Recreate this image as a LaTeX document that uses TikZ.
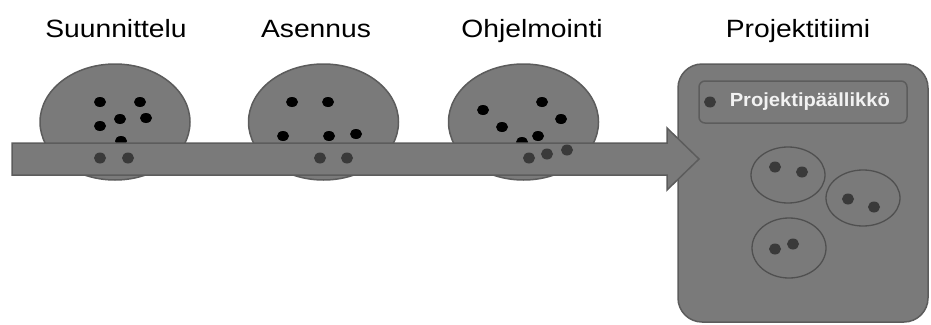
\documentclass[tikz,border=0pt]{standalone}
\usepackage{fontspec}
\setmainfont{Liberation Sans}
\usetikzlibrary{shapes.geometric}
\definecolor{fillgray}{HTML}{7A7A7A}
\definecolor{edgegray}{HTML}{5C5C5C}
\definecolor{dotgray}{HTML}{3A3A3A}
\definecolor{ringgray}{HTML}{505050}
\definecolor{labwhite}{HTML}{F2F2F2}
\begin{document}
\begin{tikzpicture}[x=1pt,y=-1pt,
  blob/.style={ellipse,draw=edgegray,fill=fillgray,line width=1.5pt,inner sep=0pt},
  bdot/.style={ellipse,fill=black,inner sep=0pt,minimum width=12pt,minimum height=10pt},
  gdot/.style={ellipse,fill=dotgray,inner sep=0pt,minimum width=12pt,minimum height=11pt},
  ring/.style={ellipse,draw=ringgray,line width=1.3pt,inner sep=0pt},
  title/.style={font=\fontsize{25}{25}\selectfont,xscale=1.13,anchor=base,text=black},
  teambox/.style={draw=edgegray,fill=fillgray,line width=1.5pt,rounded corners=24pt},
  pmbox/.style={draw=edgegray,fill=fillgray,line width=1.5pt,rounded corners=6pt}]
\useasboundingbox (0,0) rectangle (931,324);
% titles
\node[title] (t1) at (116,37) {Suunnittelu};
\node[title] (t2) at (316,37) {Asennus};
\node[title] (t3) at (532,37) {Ohjelmointi};
\node[title] (t4) at (798,37) {Projektitiimi};
% team box
\draw[teambox] (678,64) rectangle (928,322);
\draw[pmbox] (699,81) rectangle (907,123);
\node[gdot] (pmd) at (710,102) {};
\node[anchor=base west,text=labwhite,font=\bfseries\fontsize{19}{19}\selectfont,xscale=1.06] (pm) at (726,106) {Projektipäällikkö};
\node[ring,minimum width=74pt,minimum height=56pt] (ra) at (788,175) {};
\node[ring,minimum width=74pt,minimum height=56pt] (rb) at (863,198) {};
\node[ring,minimum width=74pt,minimum height=60pt] (rc) at (789,248) {};
\foreach \p [count=\i] in {(775,167),(802,172),(848,199),(874,207),(775,249),(793,244)}
  \node[gdot] (td\i) at \p {};
% phase ellipses
\node[blob,minimum width=150pt,minimum height=116pt] (e1) at (115,122) {};
\node[blob,minimum width=150pt,minimum height=116pt] (e2) at (323.5,122) {};
\node[blob,minimum width=150pt,minimum height=116pt] (e3) at (523.5,122) {};
\foreach \p [count=\i] in {(100,102),(140,102),(100,126),(120,119),(146,118),(121,141),
  (292,102),(328,102),(283,136),(329,136),(356,134),
  (483,110),(542,102),(561,119),(502,127),(538,136),(522,142)}
  \node[bdot] (bd\i) at \p {};
% arrow
\draw[draw=edgegray,fill=fillgray,line width=1.5pt,line join=miter]
  (12,143) -- (667,143) -- (667,128) -- (699,159) -- (667,190) -- (667,175) -- (12,175) -- cycle;
\foreach \p [count=\i] in {(100,158),(128,158),(320,158),(347,158),(529,158),(547,154),(567,150)}
  \node[gdot] (ad\i) at \p {};
\end{tikzpicture}
\end{document}
